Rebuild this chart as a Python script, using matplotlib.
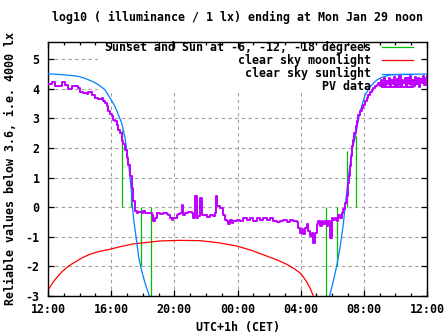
import matplotlib
matplotlib.use("Agg")
import matplotlib.pyplot as plt
from matplotlib.patches import Rectangle

# hours after 12:00 (Sun Jan 28) -> 12:00 Mon Jan 29
x_ticks = [0, 4, 8, 12, 16, 20, 24]
x_labels = ["12:00", "16:00", "20:00", "00:00", "04:00", "08:00", "12:00"]
y_ticks = [-3, -2, -1, 0, 1, 2, 3, 4, 5]

# clear sky sunlight
sun_h = [0.0, 0.6, 1.08, 1.5, 1.92, 2.25, 2.55, 2.9, 3.19, 3.61, 3.93, 4.24, 4.45, 4.67,
         4.88, 5.09, 5.26, 5.33, 5.42, 5.55, 5.65, 5.75, 5.93, 6.14, 6.45,
         17.81, 18.07, 18.28, 18.49, 18.70, 18.81, 19.02, 19.13, 19.23, 19.44, 19.76,
         20.08, 20.39, 20.82, 21.2, 21.66, 22.5, 24.0]
sun_v = [4.51, 4.49, 4.47, 4.45, 4.42, 4.37, 4.31, 4.23, 4.14, 3.97, 3.69, 3.41, 3.13,
         2.84, 2.34, 1.55, 0.65, 0.15, -0.4, -0.9, -1.3, -1.7, -2.15, -2.55, -3.05,
         -3.05, -2.49, -1.99, -1.37, -0.58, 0.0, 1.0, 1.45, 1.89, 2.33, 3.23,
         3.79, 4.07, 4.30, 4.40, 4.47, 4.49, 4.50]

# clear sky moonlight
moon_h = [0.08, 0.3, 0.55, 0.85, 1.18, 1.5, 1.82, 2.2, 2.66, 3.2, 3.93, 4.6, 5.4, 6.42,
          7.09, 8.36, 9.63, 10.8, 11.95, 12.9, 13.85, 14.5, 15.12, 15.6, 15.96, 16.2,
          16.38, 16.6, 16.80]
moon_v = [-2.74, -2.55, -2.38, -2.2, -2.04, -1.92, -1.82, -1.70, -1.59, -1.50, -1.42,
          -1.33, -1.24, -1.18, -1.14, -1.12, -1.13, -1.20, -1.31, -1.46, -1.65, -1.78,
          -1.93, -2.08, -2.22, -2.38, -2.52, -2.74, -3.0]

# sunset and sun at -6, -12, -18 degrees
mark_h = [4.67, 5.26, 5.89, 6.52, 17.61, 18.28, 18.96, 19.49]
mark_v = [2.62, 0.45, -2.0, -3.0, -3.0, -2.0, 1.9, 2.39]

# PV data
pv_h = [0.00, 0.23, 0.44, 0.65, 0.87, 1.08, 1.29, 1.50, 1.71, 1.92, 2.03, 2.24, 2.45,
        2.55, 2.77, 2.98, 3.19, 3.40, 3.50, 3.61, 3.72, 3.82, 3.93, 4.03, 4.14, 4.24,
        4.35, 4.45, 4.56, 4.67, 4.77, 4.88, 4.98, 5.09, 5.19, 5.30, 5.40, 5.51, 5.62,
        5.72, 5.83, 5.93, 6.04, 6.14, 6.25, 6.46, 6.57, 6.67, 6.78, 6.88, 7.09, 7.30,
        7.52, 7.62, 7.73, 7.83, 7.94, 8.15, 8.25, 8.36, 8.47, 8.53, 8.68, 8.89, 9.10,
        9.20, 9.31, 9.42, 9.52, 9.63, 9.73, 9.84, 10.05, 10.26, 10.47, 10.58, 10.64,
        10.72, 10.89, 11.06, 11.21, 11.32, 11.42, 11.53, 11.63, 11.74, 11.95, 12.16,
        12.37, 12.58, 12.79, 13.00, 13.22, 13.43, 13.64, 13.85, 14.06, 14.27, 14.48,
        14.69, 14.90, 15.12, 15.33, 15.54, 15.75, 15.85, 15.96, 16.07, 16.17, 16.28,
        16.38, 16.49, 16.59, 16.70, 16.80, 16.91, 17.02, 17.12, 17.23, 17.33, 17.44,
        17.54, 17.65, 17.75, 17.86, 17.97, 18.07, 18.18, 18.28, 18.39, 18.49, 18.60,
        18.70, 18.81, 18.92, 18.98, 19.02, 19.06, 19.13, 19.19, 19.27, 19.34, 19.40,
        19.49, 19.57, 19.65, 19.76, 19.87, 19.97, 20.08, 20.18, 20.29, 20.39, 20.50,
        20.60, 20.71, 20.82, 20.92, 21.00, 21.08, 21.17, 21.25, 21.33, 21.42, 21.50,
        21.58, 21.67, 21.75, 21.83, 21.92, 22.00, 22.08, 22.17, 22.25, 22.33, 22.42,
        22.50, 22.58, 22.67, 22.75, 22.83, 22.92, 23.00, 23.08, 23.17, 23.25, 23.33,
        23.42, 23.50, 23.58, 23.67, 23.75, 23.83, 23.92, 24.00]
pv_v = [4.16, 4.23, 4.11, 4.11, 4.23, 4.14, 4.00, 4.08, 4.11, 4.02, 3.89, 3.85, 3.82,
        3.91, 3.78, 3.69, 3.67, 3.69, 3.58, 3.52, 3.41, 3.24, 3.15, 3.07, 2.96, 2.90,
        2.79, 2.62, 2.51, 2.23, 2.13, 1.95, 1.66, 1.44, 1.05, 0.65, 0.20, -0.13, -0.19,
        -0.16, -0.16, -0.19, -0.13, -0.21, -0.20, -0.19, -0.25, -0.45, -0.36, -0.19,
        -0.22, -0.19, -0.22, -0.27, -0.36, -0.42, -0.36, -0.27, -0.22, -0.19, 0.09,
        -0.25, -0.19, -0.16, -0.19, -0.36, 0.37, -0.36, -0.30, 0.31, -0.25, -0.27,
        -0.34, -0.27, -0.30, -0.19, 0.37, 0.03, -0.02, -0.25, -0.42, -0.47, -0.58,
        -0.42, -0.53, -0.47, -0.42, -0.47, -0.36, -0.42, -0.36, -0.47, -0.36, -0.42,
        -0.38, -0.42, -0.36, -0.47, -0.49, -0.47, -0.42, -0.49, -0.42, -0.45, -0.49,
        -0.70, -0.87, -0.75, -0.92, -0.70, -0.58, -0.81, -0.98, -0.87, -1.20, -0.87,
        -0.58, -0.47, -0.64, -0.47, -0.58, -0.47, -0.64, -0.47, -1.04, -0.36, -0.42,
        -0.36, -0.47, -0.25, -0.36, -0.19, -0.05, 0.15, 0.37, 0.60, 0.82, 1.05, 1.38,
        1.72, 2.06, 2.28, 2.51, 2.73, 2.90, 3.13, 3.24, 3.35, 3.46, 3.58, 3.69, 3.80,
        3.91, 3.97, 4.02, 4.08, 4.14, 4.19, 4.10, 4.30, 4.12, 4.36, 4.08, 4.28, 4.15,
        4.38, 4.05, 4.30, 4.18, 4.40, 4.08, 4.33, 4.14, 4.42, 4.10, 4.30, 4.20, 4.38,
        4.06, 4.35, 4.15, 4.42, 4.12, 4.30, 4.08, 4.40, 4.18, 4.36, 4.05, 4.33, 4.20,
        4.45, 4.12, 4.38, 4.45]

plt.rcParams["axes.unicode_minus"] = False
font = {"family": "DejaVu Sans Mono", "weight": "bold", "size": 8.4}

fig = plt.figure(figsize=(4.47, 3.35), dpi=100)
ax = fig.add_axes([48 / 447, 39 / 335, 379 / 447, 254.5 / 335])

green = "#00c000"
red = "#ff0000"
blue = "#0080ff"
purple = "#c000ff"

ax.vlines(mark_h, 0, mark_v, color=green, lw=0.9, zorder=2)
ax.plot(moon_h, moon_v, color=red, lw=0.9, zorder=3)
ax.plot(sun_h, sun_v, color=blue, lw=0.9, zorder=4)
ax.plot(pv_h, pv_v, color=purple, lw=1.4, drawstyle="steps-post", zorder=5)

ax.set_xlim(0, 24)
ax.set_ylim(-3, 5.6)
ax.set_xticks(x_ticks)
ax.set_xticklabels(x_labels, fontdict=font)
ax.set_xticks(range(0, 25), minor=True)
ax.set_yticks(y_ticks)
ax.set_yticklabels([str(v) for v in y_ticks], fontdict=font)
ax.tick_params(which="both", direction="in", top=True, right=True, width=0.9)
ax.tick_params(which="major", length=4.5)
ax.tick_params(which="minor", length=2.5)
ax.tick_params(axis="x", pad=5)
ax.tick_params(axis="y", pad=6)
for s in ax.spines.values():
    s.set_linewidth(1.0)

ax.grid(True, which="major", color="#a0a0a0", lw=0.8, linestyle=(0, (3, 3)))
ax.set_axisbelow("line")

# opaque key box (pixel extents of the key), hides the grid below it
ax_h = 254.5
box_x0, box_x1 = (98 - 48) / 379, (427 - 7 - 48) / 379
box_y0, box_y1 = (296 - 93) / ax_h, (296 - 48.5) / ax_h
ax.add_patch(Rectangle((box_x0, box_y0), box_x1 - box_x0, box_y1 - box_y0,
                       transform=ax.transAxes, facecolor="white", edgecolor="none",
                       zorder=1.6))

keys = ["Sunset and Sun at -6, -12, -18 degrees", "clear sky moonlight",
        "clear sky sunlight", "PV data"]
colors = [green, red, blue, purple]
rows = [47.0, 60.3, 73.6, 87.0]
for k, c, r in zip(keys, colors, rows):
    y = (296 - r) / ax_h
    ax.text((371 - 48) / 379, y, k, transform=ax.transAxes, ha="right", va="center",
            fontdict=font, zorder=6)
    ax.plot([(382 - 48) / 379, (413 - 48) / 379], [y, y], transform=ax.transAxes,
            color=c, lw=0.9 if c != purple else 1.4, zorder=6)

ax.set_title("log10 ( illuminance / 1 lx) ending at Mon Jan 29 noon", fontdict=font, pad=14.5)
ax.set_xlabel("UTC+1h (CET)", fontdict=font, labelpad=4)
ax.set_ylabel("Reliable values below 3.6, i.e. 4000 lx", fontdict=font, labelpad=6)

fig.savefig("out.png", dpi=100)
